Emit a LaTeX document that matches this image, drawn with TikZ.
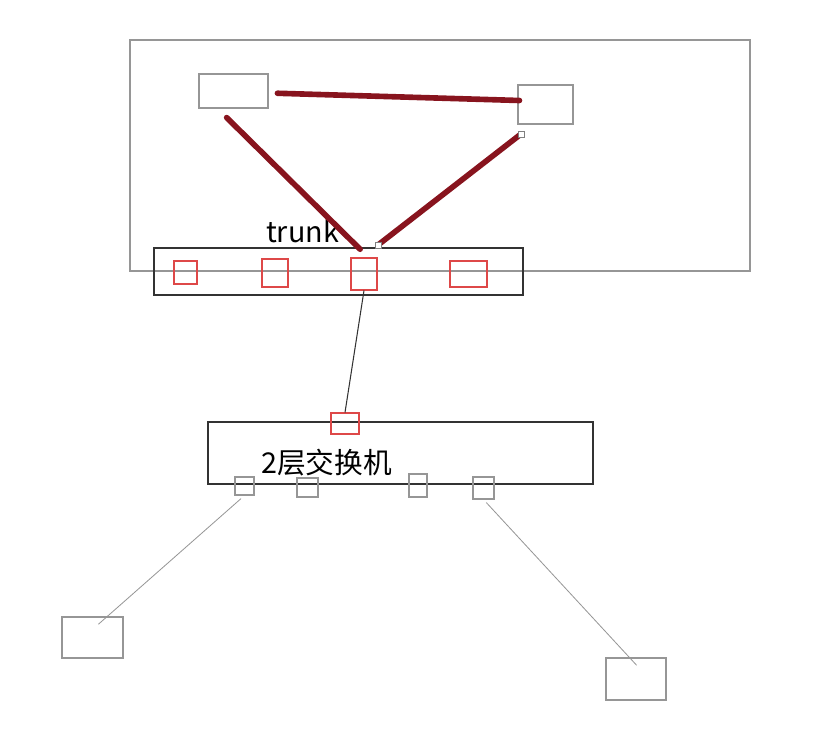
\documentclass[tikz,border=0pt]{standalone}
\usepackage{fontspec}
\setmainfont{Noto Sans CJK SC}
\usetikzlibrary{fit,calc}
\definecolor{linkred}{RGB}{136,20,30}
\definecolor{portred}{RGB}{222,72,72}
\definecolor{boxgray}{RGB}{150,150,150}
\begin{document}
\begin{tikzpicture}[x=0.03cm, y=-0.03cm,
  box/.style={draw=boxgray, line width=0.9pt, inner sep=0pt},
  port/.style={draw=portred, line width=0.9pt, inner sep=0pt},
  switchbox/.style={draw=black!80, line width=1pt, inner sep=0pt},
  trunkline/.style={draw=linkred, line width=4.8pt, line cap=round},
  cable/.style={draw=boxgray, line width=0.7pt},
  handle/.style={draw=gray, fill=white, line width=0.6pt, minimum size=5pt, inner sep=0pt},
  every node/.style={font=\fontsize{24.5}{28}\selectfont}]
\useasboundingbox (0,0) rectangle (832,731);

% top frame with two switches
\node[box, fit={(130,40) (750,271)}] (frame) {};
\node[box, fit={(199,74) (268,108)}] (boxA) {};
\node[box, fit={(518,85) (573,124)}] (boxB) {};

% core switch
\node[switchbox, fit={(154,248) (523,295)}] (core) {};
\node[port, fit={(174,261) (197,284)}] (p1) {};
\node[port, fit={(262,259) (288,287)}] (p2) {};
\node[port, fit={(351,258) (377,290)}] (p3) {};
\node[port, fit={(450,261) (487,287)}] (p4) {};
\node[anchor=base west] (trunk) at (262,242) {trunk};

% red links
\draw[trunkline, shorten <=7.6pt] ($(boxA.east)+(0,2)$) -- ($(boxB.west)+(2,-4)$);
\draw[trunkline, shorten <=11pt, shorten >=10pt] ($(boxA.south west)+(19,0)$) -- ($(p3.north west)+(18,0)$);
\coordinate (e1) at (521,134);
\coordinate (e2) at (378,245);
\draw[trunkline] (e2) -- (e1);
\node[handle] (h1) at (e1) {};
\node[handle] (h2) at (e2) {};

% layer 2 switch
\node[switchbox, fit={(208,422) (593,484)}] (l2sw) {};
\node[port, fit={(331,413) (359,434)}] (up) {};
\node[anchor=base west] (l2label) at (257,473) {2层交换机};
\node[box, fit={(235,477) (254,495)}] (a1) {};
\node[box, fit={(297,478) (318,497)}] (a2) {};
\node[box, fit={(409,474) (427,497)}] (a3) {};
\node[box, fit={(473,477) (494,499)}] (a4) {};
\draw[black!80, line width=0.9pt] (p3.south) -- (up.north);

% hosts
\node[box, fit={(62,617) (123,658)}] (pcL) {};
\node[box, fit={(606,658) (666,700)}] (pcR) {};
\draw[cable, shorten <=4pt, shorten >=-10pt] (a1.south) -- (pcL.55);
\draw[cable, shorten <=3.5pt, shorten >=-9pt] (a4.south) -- (pcR.107);
\end{tikzpicture}
\end{document}
